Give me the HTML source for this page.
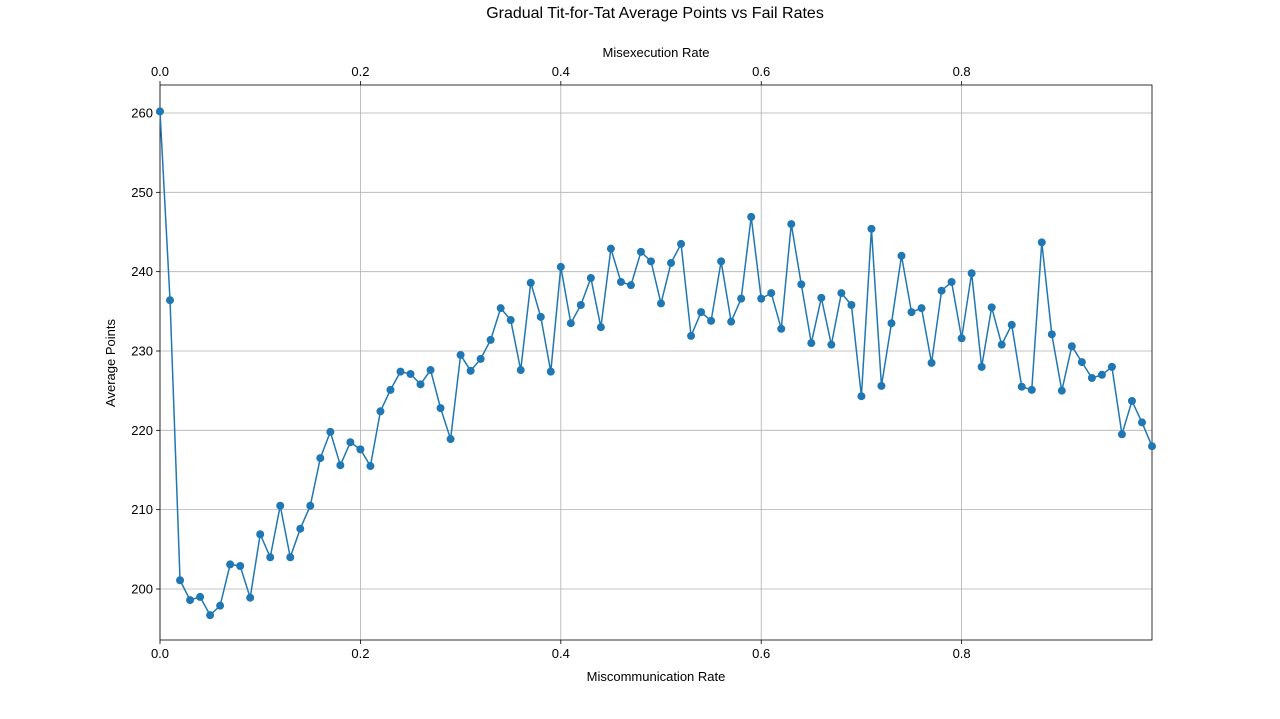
<!DOCTYPE html>
<html><head><meta charset="utf-8">
<style>
html,body{margin:0;padding:0;background:#fff;}
svg{display:block;font-family:"Liberation Sans","DejaVu Sans",sans-serif;}
</style></head>
<body>
<svg id="chart" width="1280" height="719" viewBox="0 0 1280 719">
<text x="655" y="18" text-anchor="middle" font-size="16" dy="0">Gradual Tit-for-Tat Average Points vs Fail Rates</text>
<g id="grid"></g>
<g id="axes"></g>
<g id="series"></g>
<text x="656" y="681" text-anchor="middle" font-size="13">Miscommunication Rate</text>
<text x="656" y="57" text-anchor="middle" font-size="13">Misexecution Rate</text>
<text x="115" y="363" text-anchor="middle" font-size="13" transform="rotate(-90 115 363)">Average Points</text>
</svg>
<script>
const rates = Array.from({length:100}, (_, i) => i / 100);
const avgPoints = [260.2,236.4,201.1,198.6,199.0,196.7,197.9,203.1,202.9,198.9,
206.9,204.0,210.5,204.0,207.6,210.5,216.5,219.8,215.6,218.5,
217.6,215.5,222.4,225.1,227.4,227.1,225.8,227.6,222.8,218.9,
229.5,227.5,229.0,231.4,235.4,233.9,227.6,238.6,234.3,227.4,
240.6,233.5,235.8,239.2,233.0,242.9,238.7,238.3,242.5,241.3,
236.0,241.1,243.5,231.9,234.9,233.8,241.3,233.7,236.6,246.9,
236.6,237.3,232.8,246.0,238.4,231.0,236.7,230.8,237.3,235.8,
224.3,245.4,225.6,233.5,242.0,234.9,235.4,228.5,237.6,238.7,
231.6,239.8,228.0,235.5,230.8,233.3,225.5,225.1,243.7,232.1,
225.0,230.6,228.6,226.6,227.0,228.0,219.5,223.7,221.0,218.0];
const xTicks = [0, 0.2, 0.4, 0.6, 0.8];
const xTickLabels = ["0.0","0.2","0.4","0.6","0.8"];
const yTicks = [200, 210, 220, 230, 240, 250, 260];

const L=160,R=1152,T=85,B=640;
const xMin=0,xMax=0.99,yMin=193.57,yMax=263.53;
const xs=v=>L+(v-xMin)/(xMax-xMin)*(R-L);
const ys=v=>B-(v-yMin)/(yMax-yMin)*(B-T);
const NS="http://www.w3.org/2000/svg";
function mk(tag,attrs,parent){const e=document.createElementNS(NS,tag);for(const k in attrs)e.setAttribute(k,attrs[k]);parent.appendChild(e);return e;}
const grid=document.getElementById('grid'),axes=document.getElementById('axes'),ser=document.getElementById('series');

xTicks.forEach((t,i)=>{
  const x=xs(t);
  const g=mk('line',{x1:x,x2:x,y1:T,y2:B,stroke:'#b0b0b0','stroke-width':0.8},grid);
  
  
  mk('line',{x1:x,x2:x,y1:B,y2:B+4,stroke:'#000','stroke-width':0.8},axes);
  mk('line',{x1:x,x2:x,y1:T,y2:T-4,stroke:'#000','stroke-width':0.8},axes);
  const tb=mk('text',{x:x,y:B+18,'text-anchor':'middle','font-size':13},axes);
  tb.textContent=xTickLabels[i];
  
  
  const tt=mk('text',{x:x,y:T-9,'text-anchor':'middle','font-size':13},axes);
  tt.textContent=xTickLabels[i];
  
  
});
yTicks.forEach(t=>{
  const y=ys(t);
  const g=mk('line',{x1:L,x2:R,y1:y,y2:y,stroke:'#b0b0b0','stroke-width':0.8},grid);
  
  
  mk('line',{x1:L-4,x2:L,y1:y,y2:y,stroke:'#000','stroke-width':0.8},axes);
  const tl=mk('text',{x:L-7,y:y+4.5,'text-anchor':'end','font-size':13},axes);
  tl.textContent=String(t);
  
  
});
const frame=mk('rect',{x:L,y:T,width:R-L,height:B-T,fill:'none',stroke:'#000','stroke-width':0.8},axes);



const pts=rates.map((r,i)=>xs(r)+','+ys(avgPoints[i])).join(' ');
const line=mk('polyline',{points:pts,fill:'none',stroke:'#1f77b4','stroke-width':1.5},ser);


rates.forEach((r,i)=>{
  const c=mk('circle',{cx:xs(r),cy:ys(avgPoints[i]),r:4,fill:'#1f77b4'},ser);
  
  
});
</script>
</body></html>
